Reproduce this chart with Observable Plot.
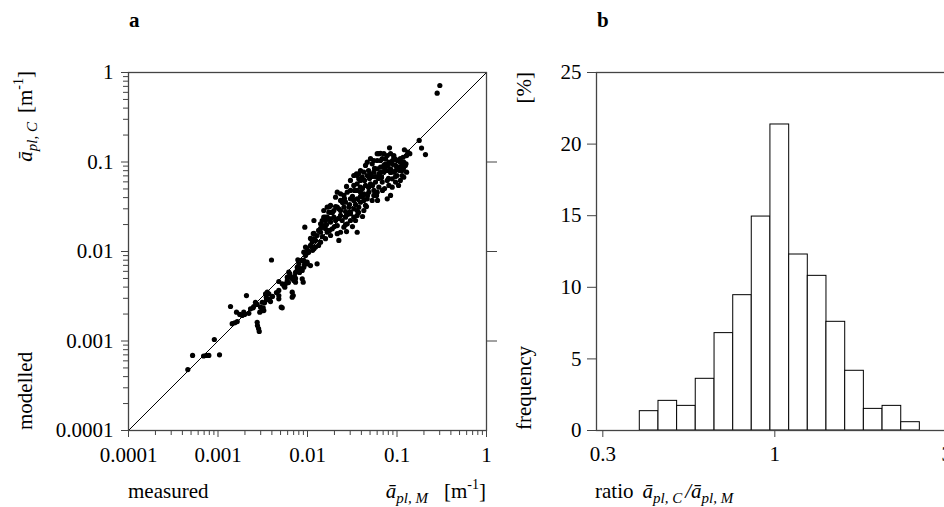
<!DOCTYPE html>
<html><head><meta charset="utf-8">
<script src="https://cdn.jsdelivr.net/npm/d3@7"></script>
<script src="https://cdn.jsdelivr.net/npm/@observablehq/plot@0.6"></script>
<style>
html,body{margin:0;padding:0;background:#fff;overflow:hidden;}
#fig{position:relative;width:944px;height:507px;overflow:hidden;background:#fff;}
#pa{position:absolute;left:0;top:0;}
#pb{position:absolute;left:500px;top:0;}
</style></head><body>
<div id="fig"><div id="pa"></div><div id="pb"></div></div>
<script>
// ---------- Panel a: measured vs modelled (log-log scatter) ----------
const measured = [
0.00046,0.00052,0.00069,0.00074,0.00079,0.00104,0.00091,0.00138,0.00161,0.00175,
0.00144,0.00154,0.00164,0.00186,0.00198,0.00208,0.00231,0.00247,0.00274,0.00276,
0.00284,0.00289,0.00320,0.00331,0.00346,0.00370,0.00325,0.00376,0.00386,0.00396,
0.00522,0.00478,0.00522,0.00544,0.00558,0.00594,0.00635,0.00675,0.00704,0.00735,
0.00675,0.00675,0.00693,0.00768,0.00800,0.00836,0.00873,0.00910,0.00933,0.00950,
0.00990,0.0113,0.0118,0.0116,0.0128,0.00990,0.00873,0.00895,0.00780,0.00735,
0.00735,0.00618,0.00646,0.00594,0.00568,0.00478,0.00478,0.00478,0.00509,0.00355,
0.00340,0.00348,0.00312,0.00299,0.00312,0.00293,0.00262,0.00274,0.00251,0.00221,
0.00194,0.00873,0.00800,0.00768,0.00910,0.00990,0.0108,
0.0140,0.0146,0.0152,0.0159,0.0173,0.0181,0.0197,0.0206,0.0215,0.0189,
0.0166,0.0140,0.0128,0.0118,0.0108,0.0099,0.0103,0.0095,0.0091,0.0123,
0.0140,0.0159,0.0181,0.0234,0.0255,0.0278,0.0302,0.0329,0.0244,0.0266,
0.0359,0.0302,0.0224,0.0359,0.0181,0.0118,0.0152,0.0166,0.0215,0.0197,
0.0177,0.0118,0.0359,0.0215,0.0266,0.0344,0.0412,0.0481,0.0575,0.0672,
0.0784,0.0963,
0.177,0.188,0.208,0.121,0.132,0.139,0.128,0.117,0.0825,0.0601,
0.0655,0.0713,0.0778,0.0847,0.0922,0.0506,0.0551,0.0465,0.0445,0.0528,
0.0601,0.0684,0.1005,0.109,0.114,0.105,0.0963,0.0884,0.0811,0.0744,
0.0713,0.0655,0.0601,0.128,0.114,0.109,0.0391,0.0426,0.0359,0.0409,
0.0465,0.0506,0.0551,0.0627,0.0713,0.0778,0.0847,0.0922,0.100,0.0884,
0.0778,0.0684,0.0811,0.0302,0.0329,0.0359,0.0391,0.0445,0.0506,0.0575,
0.0627,0.0551,0.0484,0.0426,0.0391,0.0359,0.0778,0.0528,0.0551,0.0215,
0.0234,0.0206,0.0255,0.0278,0.0302,0.0234,0.0266,0.0302,0.0329,0.0359,
0.0391,0.0426,0.0465,0.0166,0.0152,0.0173,0.0224,0.0255,0.0290,0.0329,
0.0374,0.0426,0.0302,0.0234,0.0159,0.0181,0.0374,0.0601,0.126,0.0963,
0.0884,0.119,0.0963,0.0922,0.109,0.119,0.124,0.114,0.0627,0.0329,
0.0353,0.0374,0.301,0.281,
0.0123,0.0133,0.0147,0.0163,0.0176,0.0190,0.0200,0.0222,0.0234,0.0246,
0.0266,0.0280,0.0295,0.0318,0.0335,0.0344,0.0372,0.0391,0.0412,0.0434,
0.0445,0.0468,0.0493,0.0533,0.0561,0.0591,0.0622,0.0655,0.0689,0.0726,
0.0744,0.0804,0.0847,0.0891,0.0963,0.101,0.107,0.118,0.0655,0.0533,
0.0481,0.0391,0.0273,0.0259,0.0206,0.0181,0.0159,0.0140,0.0108,0.0114,
0.0133,0.0273,0.0318,0.0412,0.0456,0.0606,0.0726,0.0847,0.104,
0.00612,0.00716,0.00814,0.00924,0.00450,0.00406
];
const modelled = [
0.00048,0.00069,0.00068,0.00069,0.00069,0.00070,0.00104,0.00243,0.00210,0.00198,
0.00156,0.00160,0.00165,0.00193,0.00198,0.00322,0.00229,0.00235,0.00162,0.00149,
0.00138,0.00128,0.00235,0.00267,0.00309,0.00337,0.00219,0.00293,0.00276,0.00804,
0.00235,0.00462,0.00436,0.00417,0.00399,0.00517,0.00564,0.00496,0.00474,0.00454,
0.00351,0.00309,0.00322,0.00614,0.00651,0.00641,0.00614,0.00794,0.0187,0.0112,
0.00958,0.0127,0.0107,0.0158,0.00729,0.00729,0.00496,0.00454,0.00808,0.00583,
0.00500,0.00587,0.00517,0.00474,0.00436,0.00367,0.00322,0.00296,0.00239,0.00351,
0.00337,0.00289,0.00271,0.00239,0.00219,0.00210,0.00271,0.00256,0.00243,0.00204,
0.00210,0.00794,0.00729,0.00668,0.00668,0.00760,0.00697,
0.0204,0.0222,0.0195,0.0179,0.0232,0.0213,0.0242,0.0222,0.0195,0.0179,
0.0164,0.0164,0.0151,0.0139,0.0117,0.0107,0.00983,0.00903,0.00983,0.0112,
0.0127,0.0139,0.0151,0.0164,0.0187,0.0204,0.0222,0.0242,0.0222,0.0242,
0.0287,0.0275,0.0133,0.0164,0.0327,0.0160,0.0242,0.0242,0.0313,0.0287,
0.0318,0.0222,0.0253,0.0158,0.0280,0.0335,0.0412,0.0519,0.0689,0.0672,
0.0915,0.107,
0.174,0.143,0.121,0.137,0.129,0.124,0.118,0.113,0.144,0.124,
0.125,0.124,0.118,0.124,0.118,0.109,0.104,0.0996,0.0915,0.0955,
0.104,0.109,0.104,0.0996,0.0915,0.0875,0.0915,0.0955,0.0996,0.0955,
0.0915,0.0875,0.0840,0.0770,0.0707,0.0622,0.0804,0.0770,0.0707,0.0677,
0.0707,0.0738,0.0770,0.0738,0.0770,0.0804,0.0840,0.0770,0.0707,0.0649,
0.0622,0.0596,0.0547,0.0622,0.0547,0.0571,0.0523,0.0547,0.0571,0.0596,
0.0523,0.0481,0.0460,0.0441,0.0460,0.0481,0.0388,0.0372,0.0423,0.0460,
0.0441,0.0405,0.0423,0.0460,0.0481,0.0372,0.0356,0.0388,0.0372,0.0388,
0.0356,0.0372,0.0388,0.0313,0.0287,0.0275,0.0300,0.0313,0.0313,0.0300,
0.0313,0.0287,0.0264,0.0253,0.0242,0.0232,0.0738,0.0460,0.0955,0.0596,
0.0523,0.0677,0.0804,0.113,0.109,0.0996,0.0915,0.0804,0.124,0.0707,
0.0738,0.0649,0.716,0.588,
0.0133,0.0172,0.0147,0.0200,0.0172,0.0273,0.0190,0.0234,0.0287,0.0353,
0.0200,0.0259,0.0335,0.0412,0.0481,0.0222,0.0273,0.0412,0.0506,0.0622,
0.0327,0.0423,0.0655,0.0547,0.0847,0.0423,0.0655,0.104,0.0481,0.0847,
0.109,0.0655,0.0764,0.104,0.0689,0.0847,0.0804,0.0847,0.0764,0.0689,
0.0804,0.0622,0.0533,0.0391,0.0318,0.0273,0.0222,0.0181,0.0140,0.0103,
0.0117,0.0167,0.0190,0.0246,0.0318,0.0372,0.0506,0.0423,0.0547,
0.00450,0.00526,0.00583,0.00716,0.00348,0.00315
];
const diagonal = [0.0001, 1];
const decadeTicks = [0.0001, 0.001, 0.01, 0.1, 1];
const decadeLabels = ["0.0001", "0.001", "0.01", "0.1", "1"];
const rightTicks = [0.001, 0.01, 0.1];

// ---------- Panel b: histogram of ratio ----------
const binEdges = [0.405,0.459,0.520,0.589,0.668,0.757,0.857,0.971,1.101,1.247,1.413,1.602,1.815,2.057,2.331,2.640];
const frequency = [1.35,2.07,1.72,3.61,6.80,9.45,14.94,21.37,12.29,10.80,7.59,4.17,1.51,1.72,0.58];
const freqTicks = [0, 5, 10, 15, 20, 25];
const ratioTicks = [0.3162, 1, 3.162];
const ratioLabels = ["0.3", "1", "3"];

const FONT = '"Liberation Serif", "Times New Roman", Times, serif';
const pts = measured.map((m, i) => ({m, c: modelled[i]}));
const minorA = [];
for (const d of decadeTicks.slice(0, -1)) for (const k of [2,3,4,5,6,7,8,9]) minorA.push(k * d);
const bins = frequency.map((f, i) => ({lo: binEdges[i], hi: binEdges[i+1], f}));

const baseStyle = {fontFamily: FONT, fontSize: "21px", background: "transparent", maxWidth: "none", overflow: "visible", color: "black"};

const plotA = Plot.plot({
  width: 500, height: 507,
  marginLeft: 128, marginRight: 14, marginTop: 72, marginBottom: 77,
  x: {type: "log", domain: [1e-4, 1]},
  y: {type: "log", domain: [1e-4, 1]},
  style: baseStyle,
  marks: [
    Plot.line(diagonal, {x: d => d, y: d => d, stroke: "black", strokeWidth: 1}),
    Plot.dot(pts, {x: "m", y: "c", r: 2.6, fill: "black"}),
    Plot.frame({stroke: "#444", strokeWidth: 1.3}),
    Plot.axisX(minorA, {tickSize: 5, tickFormat: () => "", label: null, stroke: "#444"}),
    Plot.axisX(decadeTicks, {tickSize: 7, tickPadding: 10, label: null, stroke: "#444",
      tickFormat: d => decadeLabels[decadeTicks.indexOf(d)]}),
    Plot.axisY(minorA, {tickSize: 5, tickFormat: () => "", label: null, stroke: "#444"}),
    Plot.axisY(decadeTicks, {tickSize: 7, tickPadding: 8, label: null, stroke: "#444",
      tickFormat: d => decadeLabels[decadeTicks.indexOf(d)]}),
    Plot.axisY(rightTicks, {anchor: "right", tickSize: 10, tickFormat: () => "", label: null, stroke: "#444"})
  ]
});

const plotB = Plot.plot({
  width: 470, height: 507,
  marginLeft: 96, marginRight: 10, marginTop: 72, marginBottom: 77,
  x: {type: "log", domain: [0.3031, 3.466]},
  y: {domain: [0, 25]},
  style: baseStyle,
  marks: [
    Plot.rect(bins, {x1: "lo", x2: "hi", y1: 0, y2: "f", fill: "white", stroke: "black", strokeWidth: 1}),
    Plot.frame({stroke: "#444", strokeWidth: 1.3}),
    Plot.axisY(freqTicks, {tickSize: 9, tickPadding: 6, label: null, stroke: "#444"}),
    Plot.axisX(ratioTicks, {tickSize: 7, tickPadding: 9, label: null, stroke: "#444",
      tickFormat: d => ratioLabels[ratioTicks.indexOf(d)]})
  ]
});

document.getElementById("pa").appendChild(plotA);
document.getElementById("pb").appendChild(plotB);

function richText(svgNode, x, y, parts, opts = {}) {
  const svg = d3.select(svgNode);
  const t = svg.append("text")
    .attr("font-family", FONT).attr("font-size", opts.size || 21).attr("fill", "black")
    .attr("text-anchor", opts.anchor || "start")
    .attr("transform", `translate(${x},${y})` + (opts.rotate ? ` rotate(${opts.rotate})` : ""));
  if (opts.weight) t.attr("font-weight", opts.weight);
  for (const p of parts) {
    const s = t.append("tspan").text(p.t);
    if (p.italic) s.attr("font-style", "italic");
    if (p.size) s.attr("font-size", p.size);
    if (p.dy) s.attr("dy", p.dy);
    if (p.dx) s.attr("dx", p.dx);
  }
}

// panel letters
richText(plotA, 129, 27, [{t: "a"}], {weight: "bold"});
richText(plotB, 97, 27, [{t: "b"}], {weight: "bold"});

// panel a axis titles
richText(plotA, 128, 498, [{t: "measured"}]);
richText(plotA, 486, 498, [
  {t: "ā", italic: true},
  {t: "pl, M", italic: true, size: 15, dy: 5},
  {t: "[m", dy: -5, dx: 16},
  {t: "-1", size: 14, dy: -9},
  {t: "]", dy: 9}
], {anchor: "end"});
richText(plotA, 32, 430, [{t: "modelled"}], {rotate: -90});
richText(plotA, 32, 71, [
  {t: "ā", italic: true},
  {t: "pl, C", italic: true, size: 15, dy: 5},
  {t: "[m", dy: -5, dx: 9},
  {t: "-1", size: 14, dy: -9},
  {t: "]", dy: 9}
], {anchor: "end", rotate: -90});

// panel b axis titles
richText(plotB, 95, 498, [
  {t: "ratio"},
  {t: "ā", italic: true, dx: 9},
  {t: "pl, C", italic: true, size: 15, dy: 5},
  {t: "/", italic: true, dy: -5, dx: 3},
  {t: "ā", italic: true},
  {t: "pl, M", italic: true, size: 15, dy: 5}
]);
richText(plotB, 31, 430, [{t: "frequency"}], {rotate: -90});
richText(plotB, 31, 72, [{t: "[%]"}], {anchor: "end", rotate: -90});
</script></body></html>
